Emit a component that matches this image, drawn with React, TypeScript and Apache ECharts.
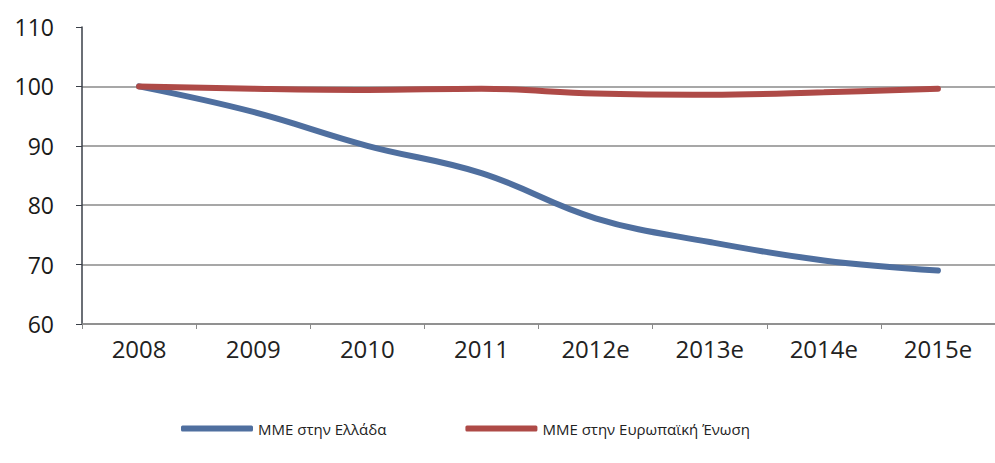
import React, { useEffect, useRef } from "react";
import * as echarts from "echarts";

const categories = ["2008", "2009", "2010", "2011", "2012e", "2013e", "2014e", "2015e"];
const greeceSeries = [100, 95.7, 90.0, 85.4, 77.8, 73.8, 70.7, 69.0];
const euSeries = [100, 99.6, 99.4, 99.6, 98.8, 98.6, 99.0, 99.6];
const seriesNames = ["ΜΜΕ στην Ελλάδα", "ΜΜΕ στην Ευρωπαϊκή Ένωση"];

export default function App() {
  const ref = useRef<HTMLDivElement>(null);
  useEffect(() => {
    if (!ref.current) return;
    const chart = echarts.init(ref.current, null, { renderer: "svg" });
    chart.setOption({
      animation: false,
      backgroundColor: "#ffffff",
      grid: { left: 82, top: 27, width: 920, height: 297 },
      legend: {
        bottom: 22,
        left: 176,
        itemWidth: 72,
        itemHeight: 6,
        itemGap: 79,
        icon: "roundRect",
        textStyle: { fontFamily: "Open Sans", fontSize: 15, color: "#222" },
        data: seriesNames,
      },
      xAxis: {
        type: "category",
        data: categories,
        boundaryGap: true,
        axisLine: { lineStyle: { color: "#8a8a8a", width: 1.5 } },
        axisTick: { show: true, length: 5, lineStyle: { color: "#8a8a8a" } },
        axisLabel: { fontFamily: "Open Sans", fontSize: 24, color: "#222", margin: 12 },
      },
      yAxis: {
        type: "value",
        min: 60,
        max: 110,
        interval: 10,
        axisLine: { show: true, lineStyle: { color: "#3a3f48", width: 1.5 } },
        axisTick: { show: true, length: 6, lineStyle: { color: "#3a3f48" } },
        axisLabel: { fontFamily: "Open Sans", fontSize: 23, color: "#1a1a1a", margin: 28 },
        splitLine: { show: true, showMaxLine: false, lineStyle: { color: "#8a8a8a", width: 1.5 } },
      },
      series: [
        {
          name: seriesNames[0],
          type: "line",
          data: greeceSeries,
          smooth: 0.4,
          symbol: "none",
          lineStyle: { width: 6, color: "#4F6F9F", cap: "round" },
          itemStyle: { color: "#4F6F9F" },
        },
        {
          name: seriesNames[1],
          type: "line",
          data: euSeries,
          smooth: 0.4,
          symbol: "none",
          lineStyle: { width: 6, color: "#AE4A47", cap: "round" },
          itemStyle: { color: "#AE4A47" },
        },
      ],
    });
    return () => chart.dispose();
  }, []);
  return (
    <div
      ref={ref}
      style={{ position: "absolute", left: 0, top: 0, width: 995, height: 463 }}
    />
  );
}
